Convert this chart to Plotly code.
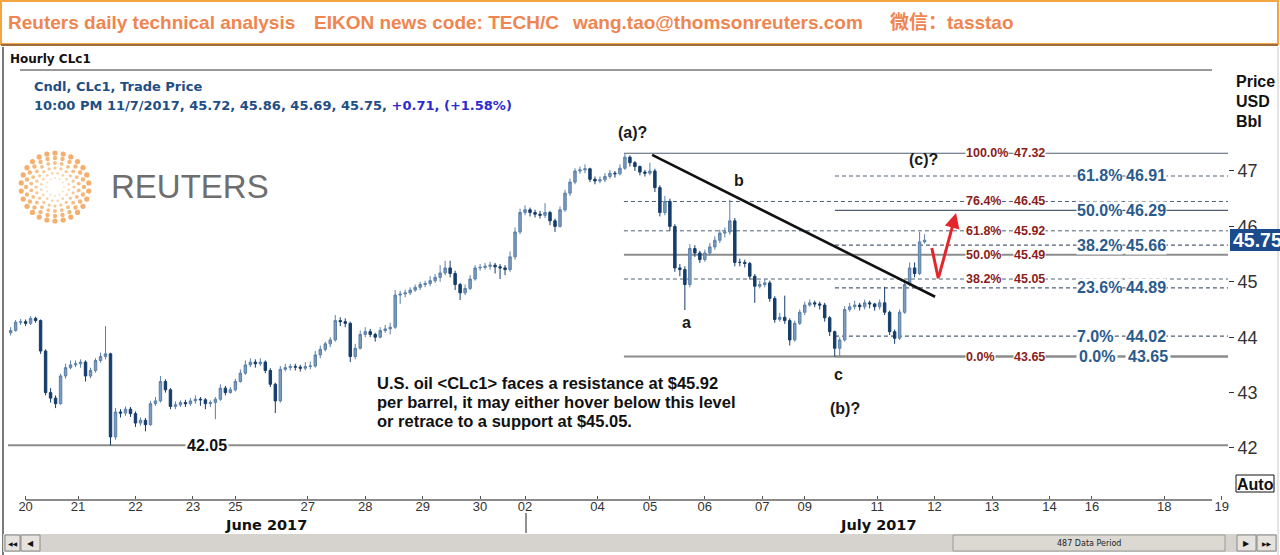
import math
import plotly.graph_objects as go

W, H = 1280, 555

# ---------------- data (2-hour bars) ----------------
first_open = 44.08
closes = [44.12, 44.27, 44.28, 44.25, 44.34, 44.30, 43.75, 43.00, 42.90, 42.80,
          43.30, 43.45, 43.50, 43.52, 43.55, 43.30, 43.40, 43.58, 43.65, 43.70,
          42.20, 42.65, 42.63, 42.70, 42.62, 42.45, 42.50, 42.42, 42.80, 42.85,
          43.20, 43.05, 42.75, 42.78, 42.82, 42.80, 42.85, 42.88, 42.87, 42.80,
          42.82, 42.88, 43.08, 43.00, 43.05, 43.20, 43.35, 43.50, 43.55, 43.52,
          43.55, 43.40, 43.15, 42.85, 43.42, 43.45, 43.47, 43.46, 43.44, 43.47,
          43.48, 43.68, 43.78, 43.88, 43.95, 44.30, 44.28, 44.25, 43.65, 43.80,
          44.05, 44.10, 44.05, 44.00, 44.12, 44.15, 44.18, 44.76, 44.78, 44.80,
          44.85, 44.90, 44.95, 44.97, 45.02, 45.08, 45.16, 45.25, 45.15, 44.95,
          44.80, 44.88, 45.05, 45.25, 45.26, 45.28, 45.30, 45.27, 45.25, 45.22,
          45.45, 45.90, 46.25, 46.30, 46.25, 46.22, 46.20, 46.25, 46.10, 46.00,
          46.30, 46.60, 46.80, 47.00, 47.02, 47.04, 46.85, 46.82, 46.84, 46.90,
          46.96, 46.95, 47.05, 47.25, 47.15, 47.08, 46.98, 46.96, 47.00, 46.70,
          46.25, 46.45, 46.00, 45.25, 45.22, 44.95, 45.60, 45.52, 45.40, 45.52,
          45.63, 45.75, 45.88, 45.90, 46.10, 45.35, 45.35, 45.33, 45.10, 44.92,
          44.95, 44.98, 44.70, 44.32, 44.36, 44.30, 43.95, 44.25, 44.45, 44.58,
          44.62, 44.60, 44.58, 44.35, 44.10, 43.80, 43.95, 44.50, 44.55, 44.58,
          44.55, 44.62, 44.60, 44.55, 44.62, 44.45, 44.10, 43.98, 44.45, 44.95,
          45.25, 45.15, 45.72, 45.75]
highs = [44.18, 44.31, 44.33, 44.32, 44.38, 44.37, 44.32, 43.78, 43.08, 42.95,
         43.34, 43.52, 43.58, 43.58, 43.60, 43.58, 43.45, 43.62, 43.72, 44.20,
         43.72, 42.72, 42.70, 42.75, 42.74, 42.66, 42.55, 42.54, 42.85, 42.92,
         43.30, 43.24, 43.08, 42.84, 42.86, 42.87, 42.90, 42.95, 42.92, 42.90,
         42.86, 42.92, 43.15, 43.12, 43.10, 43.25, 43.42, 43.58, 43.62, 43.60,
         43.62, 43.58, 43.44, 43.18, 43.48, 43.52, 43.52, 43.52, 43.50, 43.55,
         43.56, 43.75, 43.85, 43.92, 44.00, 44.40, 44.36, 44.34, 44.28, 43.88,
         44.12, 44.18, 44.15, 44.08, 44.18, 44.22, 44.26, 44.85, 44.84, 44.86,
         44.90, 44.95, 45.00, 45.02, 45.10, 45.14, 45.30, 45.38, 45.38, 45.20,
         44.98, 44.95, 45.12, 45.30, 45.32, 45.34, 45.36, 45.34, 45.32, 45.30,
         45.55, 45.98, 46.32, 46.38, 46.34, 46.30, 46.28, 46.42, 46.28, 46.14,
         46.36, 46.66, 46.86, 47.05, 47.08, 47.12, 47.06, 46.90, 46.90, 46.96,
         47.02, 47.00, 47.12, 47.32, 47.28, 47.18, 47.10, 47.02, 47.15, 47.04,
         46.74, 46.55, 46.50, 46.04, 45.32, 45.28, 45.68, 45.66, 45.56, 45.58,
         45.70, 45.82, 45.94, 45.98, 46.48, 46.15, 45.42, 45.40, 45.36, 45.14,
         45.02, 45.05, 45.02, 44.74, 44.44, 44.75, 44.34, 44.30, 44.50, 44.64,
         44.68, 44.66, 44.64, 44.62, 44.38, 44.12, 44.00, 44.56, 44.62, 44.66,
         44.62, 44.68, 44.66, 44.62, 44.68, 44.91, 44.48, 44.14, 44.50, 45.02,
         45.35, 45.35, 45.90, 45.86]
lows = [44.03, 44.10, 44.22, 44.20, 44.22, 44.26, 43.70, 42.95, 42.82, 42.72,
        42.78, 43.25, 43.42, 43.46, 43.45, 43.20, 43.26, 43.36, 43.54, 43.60,
        42.05, 42.15, 42.55, 42.58, 42.56, 42.38, 42.40, 42.30, 42.40, 42.76,
        42.82, 43.00, 42.70, 42.70, 42.74, 42.74, 42.76, 42.80, 42.76, 42.70,
        42.74, 42.52, 42.85, 42.95, 42.98, 43.02, 43.18, 43.32, 43.46, 43.45,
        43.48, 43.35, 43.10, 42.63, 42.82, 43.38, 43.40, 43.40, 43.38, 43.40,
        43.42, 43.45, 43.62, 43.74, 43.82, 43.92, 44.20, 44.18, 43.55, 43.60,
        43.78, 44.00, 44.00, 43.92, 43.98, 44.08, 44.05, 44.15, 44.60, 44.72,
        44.76, 44.82, 44.85, 44.90, 44.92, 44.98, 45.00, 45.12, 45.08, 44.85,
        44.67, 44.76, 44.85, 45.02, 45.20, 45.22, 45.22, 45.15, 45.05, 45.12,
        45.18, 45.40, 45.86, 46.20, 46.18, 46.16, 46.14, 46.15, 46.02, 45.90,
        45.98, 46.26, 46.55, 46.76, 46.95, 46.96, 46.80, 46.76, 46.78, 46.80,
        46.86, 46.88, 46.92, 47.02, 47.08, 47.00, 46.92, 46.90, 46.92, 46.62,
        46.18, 46.20, 45.92, 45.18, 45.10, 44.49, 44.90, 45.45, 45.34, 45.36,
        45.48, 45.58, 45.70, 45.80, 45.85, 45.28, 45.28, 45.26, 45.04, 44.62,
        44.88, 44.90, 44.64, 44.26, 44.28, 44.24, 43.85, 43.92, 44.22, 44.40,
        44.55, 44.54, 44.50, 44.28, 44.02, 43.65, 43.66, 43.92, 44.46, 44.50,
        44.48, 44.50, 44.52, 44.48, 44.50, 44.40, 44.04, 43.88, 43.95, 44.42,
        44.92, 45.08, 45.12, 45.69]
opens = [first_open] + closes[:-1]
bar_hours = list(range(-4, -4 + 2 * len(closes), 2))   # trading-hour index of each bar

tick_hours = [2, 23, 46, 69, 86, 115, 138, 161, 184, 202, 231, 252, 274, 297,
              314, 343, 366, 389, 412, 429, 458, 481]
tick_labels = ["20", "21", "22", "23", "25", "27", "28", "29", "30", "02", "04",
               "05", "06", "07", "09", "11", "12", "13", "14", "16", "18", "19"]
price_ticks = [42, 43, 44, 45, 46, 47]

fib_left_pct = ["100.0%", "76.4%", "61.8%", "50.0%", "38.2%", "0.0%"]
fib_left_val = [47.32, 46.45, 45.92, 45.49, 45.05, 43.65]
fib_left_dash = ["solid", "dash", "dash", "solid", "dash", "solid"]
fib_right_pct = ["61.8%", "50.0%", "38.2%", "23.6%", "7.0%", "0.0%"]
fib_right_val = [46.91, 46.29, 45.66, 44.89, 44.02, 43.65]
fib_right_dash = ["dash", "solid", "dash", "dash", "dash", "solid"]

support_level = 42.05
trend_hours = [252.9, 366.2]
trend_prices = [47.29, 44.73]
arrow_hours = [364.9, 367.5, 374.6]
arrow_prices = [45.61, 45.06, 46.24]
wave_labels = ["(a)?", "a", "b", "c", "(b)?", "(c)?"]
wave_hours = [245.2, 266.5, 287.7, 327.4, 330.2, 361.6]
wave_prices = [47.69, 44.26, 46.82, 43.32, 42.72, 47.20]
last_price = 45.75

# ---------------- geometry helpers ----------------
X_RANGE = [-5.05, 483.5]
Y_RANGE = [41.061, 48.823]
fib_left_start = 241.6
fib_right_start = 326.1
lbl_left_pct_x, lbl_left_val_x = 378.2, 397.4
lbl_right_pct_x, lbl_right_val_x = 422.7, 442.3


def fx(px):
    return px / W


def fy(py):
    return 1 - py / H


fig = go.Figure()

fig.add_trace(go.Candlestick(
    x=bar_hours, open=opens, high=highs, low=lows, close=closes,
    increasing=dict(line=dict(color="#5b80a8", width=1), fillcolor="#7d9cbd"),
    decreasing=dict(line=dict(color="#153d6b", width=1), fillcolor="#153d6b"),
    whiskerwidth=0, hoverinfo="none", showlegend=False))

fig.add_trace(go.Scatter(x=trend_hours, y=trend_prices, mode="lines",
                         line=dict(color="#111111", width=2.6),
                         hoverinfo="skip", showlegend=False))
fig.add_trace(go.Scatter(x=arrow_hours[:2], y=arrow_prices[:2], mode="lines",
                         line=dict(color="#e3262b", width=3),
                         hoverinfo="skip", showlegend=False))

# Reuters logo dots (decoration, in pixel space)
logo_cx, logo_cy = 55, 187
rings = [(9, 12, 2.0, "#f7d3a8"), (14, 16, 2.6, "#f6c182"), (19, 20, 3.2, "#f4b064"),
         (24, 22, 3.8, "#f3a14c"), (29, 24, 4.4, "#f1953b"), (34, 26, 5.2, "#ef8c2f")]
lx, ly, ls, lc = [], [], [], []
for k, (r, n, s, c) in enumerate(rings):
    off = (k % 2) * math.pi / n
    for j in range(n):
        a = off + 2 * math.pi * j / n
        lx.append(logo_cx + r * math.cos(a))
        ly.append(logo_cy + r * math.sin(a))
        ls.append(s)
        lc.append(c)
fig.add_trace(go.Scatter(x=lx, y=ly, mode="markers", xaxis="x2", yaxis="y2",
                         marker=dict(size=ls, color=lc, line=dict(width=0)),
                         hoverinfo="skip", showlegend=False))

shapes = []
ann = []

# fib lines
for v, d in zip(fib_left_val, fib_left_dash):
    solid = d == "solid"
    col = "#8c8c8c" if (solid and v < 47) else "#4f5f70"
    wid = 2 if (solid and v < 47) else 1
    shapes.append(dict(type="line", xref="x", yref="y", x0=fib_left_start, x1=X_RANGE[1],
                       y0=v, y1=v, layer="below",
                       line=dict(color=col, width=wid, dash="solid" if solid else "4px,3px")))
for v, d in zip(fib_right_val, fib_right_dash):
    solid = d == "solid"
    shapes.append(dict(type="line", xref="x", yref="y", x0=fib_right_start, x1=X_RANGE[1],
                       y0=v, y1=v, layer="below",
                       line=dict(color="#4f5f70" if v > 44 else "#8c8c8c",
                                 width=1.2 if v > 44 else 2,
                                 dash="solid" if solid else "4px,3px")))
# support line
shapes.append(dict(type="line", xref="x", yref="y", x0=X_RANGE[0], x1=X_RANGE[1],
                   y0=support_level, y1=support_level, layer="below",
                   line=dict(color="#8c8c8c", width=2)))

# fib labels
for p, v in zip(fib_left_pct, fib_left_val):
    for xx, t in ((lbl_left_pct_x, p), (lbl_left_val_x, f"{v:.2f}")):
        ann.append(dict(x=xx, y=v, xref="x", yref="y", text=t, showarrow=False,
                        xanchor="left", yanchor="middle", bgcolor="white", borderpad=0,
                        font=dict(family="Liberation Sans", size=12.5, color="#8b1c1c", weight="bold")))
for p, v in zip(fib_right_pct, fib_right_val):
    for xx, t in ((lbl_right_pct_x, p), (lbl_right_val_x, f"{v:.2f}")):
        ann.append(dict(x=xx, y=v, xref="x", yref="y", text=t, showarrow=False,
                        xanchor="left", yanchor="middle", bgcolor="white",
                        borderpad=2 if v == fib_right_val[-1] else 0,
                        font=dict(family="Liberation Sans", size=16, color="#2a5b8c", weight="bold")))

# support label
ann.append(dict(x=fx(207), y=support_level, xref="paper", yref="y", text=f"{support_level:.2f}",
                showarrow=False, bgcolor="white", borderpad=1,
                font=dict(family="Liberation Sans", size=16, color="#111", weight="bold")))

# wave labels
for t, hx, pv in zip(wave_labels, wave_hours, wave_prices):
    ann.append(dict(x=hx, y=pv, xref="x", yref="y", text=t, showarrow=False,
                    font=dict(family="Liberation Sans", size=16, color="#1a1a1a", weight="bold")))

# red arrow head segment
ann.append(dict(x=arrow_hours[2], y=arrow_prices[2], ax=arrow_hours[1], ay=arrow_prices[1],
                xref="x", yref="y", axref="x", ayref="y", text="", showarrow=True,
                arrowhead=2, arrowsize=1, arrowwidth=3, arrowcolor="#e3262b"))

# comment text
comment = ["U.S. oil &lt;CLc1&gt; faces a resistance at $45.92",
           "per barrel, it may either hover below this level",
           "or retrace to a support at $45.05."]
for k, line in enumerate(comment):
    ann.append(dict(x=fx(375), y=fy(383 + 19 * k), xref="paper", yref="paper", text=line,
                    showarrow=False, xanchor="left", yanchor="middle",
                    font=dict(family="Liberation Sans", size=16.5, color="#111", weight="bold")))

# header box
shapes.append(dict(type="rect", xref="paper", yref="paper", x0=fx(1), x1=fx(1278),
                   y0=fy(44), y1=fy(1), line=dict(color="#f2a541", width=2), fillcolor="white",
                   layer="below"))
shapes.append(dict(type="line", xref="paper", yref="paper", x0=fx(1), x1=fx(1278),
                   y0=fy(45), y1=fy(45), line=dict(color="#9c6d3f", width=2)))
header_parts = [(6, "Reuters daily technical analysis"), (312, "EIKON news code: TECH/C"),
                (570, "wang.tao@thomsonreuters.com"), (888, "微信：tasstao")]
for px_, t in header_parts:
    ann.append(dict(x=fx(px_), y=fy(22), xref="paper", yref="paper", text=t, showarrow=False,
                    xanchor="left", yanchor="middle",
                    font=dict(family="Liberation Sans, Noto Sans CJK SC", size=19,
                              color="#ef8550", weight="bold")))

# frame lines
shapes.append(dict(type="line", xref="paper", yref="paper", x0=fx(3), x1=fx(3),
                   y0=fy(47), y1=0, line=dict(color="#7a7a7a", width=2)))
shapes.append(dict(type="line", xref="paper", yref="paper", x0=fx(1278), x1=fx(1278),
                   y0=fy(47), y1=0, line=dict(color="#c8c8c8", width=1)))
shapes.append(dict(type="line", xref="paper", yref="paper", x0=fx(20), x1=fx(1212),
                   y0=fy(70), y1=fy(70), line=dict(color="#999999", width=2)))
shapes.append(dict(type="line", xref="paper", yref="paper", x0=fx(26), x1=fx(1212),
                   y0=fy(500), y1=fy(500), line=dict(color="#8a8a8a", width=2)))
shapes.append(dict(type="line", xref="paper", yref="paper", x0=fx(526), x1=fx(526),
                   y0=fy(513), y1=fy(533), line=dict(color="#222", width=1)))

# top-left texts
ann.append(dict(x=fx(8), y=fy(59), xref="paper", yref="paper", text="Hourly CLc1",
                showarrow=False, xanchor="left", yanchor="middle",
                font=dict(family="DejaVu Sans", size=12, color="#111", weight="bold")))
ann.append(dict(x=fx(32), y=fy(87), xref="paper", yref="paper", text="Cndl, CLc1, Trade Price",
                showarrow=False, xanchor="left", yanchor="middle",
                font=dict(family="DejaVu Sans", size=13, color="#1f4e85", weight="bold")))
ann.append(dict(x=fx(32), y=fy(105), xref="paper", yref="paper",
                text="10:00 PM 11/7/2017, 45.72, 45.86, 45.69, 45.75, "
                     "<span style='color:#2b2bd0'>+0.71, (+1.58%)</span>",
                showarrow=False, xanchor="left", yanchor="middle",
                font=dict(family="DejaVu Sans", size=13, color="#1f4e85", weight="bold")))

# logo word
ann.append(dict(x=fx(109), y=fy(186), xref="paper", yref="paper", text="REUTERS",
                showarrow=False, xanchor="left", yanchor="middle",
                font=dict(family="Liberation Sans", size=33, color="#6e6e6e")))

# right side labels
for k, t in enumerate(["Price", "USD", "Bbl"]):
    ann.append(dict(x=fx(1234), y=fy(81 + 20.5 * k), xref="paper", yref="paper", text=t,
                    showarrow=False, xanchor="left", yanchor="middle",
                    font=dict(family="Liberation Sans", size=16, color="#111", weight="bold")))
shapes.append(dict(type="rect", xref="paper", yref="paper", x0=fx(1230), x1=fx(1281),
                   y0=fy(251), y1=fy(229), fillcolor="#1b4b8a", line=dict(width=0), layer="above"))
ann.append(dict(x=fx(1231), y=fy(240), xref="paper", yref="paper", text=f"{last_price:.2f}",
                showarrow=False, xanchor="left", yanchor="middle",
                font=dict(family="Liberation Sans", size=19.5, color="white", weight="bold")))
shapes.append(dict(type="rect", xref="paper", yref="paper", x0=fx(1236), x1=fx(1274),
                   y0=fy(492), y1=fy(475), line=dict(color="#111", width=1), fillcolor="white"))
ann.append(dict(x=fx(1255), y=fy(484), xref="paper", yref="paper", text="Auto",
                showarrow=False, font=dict(family="Liberation Sans", size=16, color="#111",
                                           weight="bold")))

# month labels
for px_, t in ((266, "June 2017"), (878, "July 2017")):
    ann.append(dict(x=fx(px_), y=fy(524.5), xref="paper", yref="paper", text=t, showarrow=False,
                    font=dict(family="DejaVu Sans", size=14.5, color="#111", weight="bold")))

# scroll bar
shapes.append(dict(type="rect", xref="paper", yref="paper", x0=fx(3), x1=fx(1277),
                   y0=fy(552), y1=fy(534), fillcolor="#d6d3ce", line=dict(width=0)))
for a_, b_ in ((5, 20), (21, 40), (1237, 1256), (1257, 1276)):
    shapes.append(dict(type="rect", xref="paper", yref="paper", x0=fx(a_), x1=fx(b_),
                       y0=fy(551), y1=fy(535), fillcolor="#e6e3de",
                       line=dict(color="#8a8a8a", width=1)))
shapes.append(dict(type="rect", xref="paper", yref="paper", x0=fx(953), x1=fx(1225),
                   y0=fy(551), y1=fy(535), fillcolor="#dcd9d3",
                   line=dict(color="#9a9a9a", width=1)))
for px_, t, s in ((12.5, "◀◀", 6), (30.5, "◀", 8), (1246.5, "▶", 8), (1266.5, "▶▶", 6)):
    ann.append(dict(x=fx(px_), y=fy(543), xref="paper", yref="paper", text=t, showarrow=False,
                    font=dict(family="DejaVu Sans", size=s, color="#111")))
ann.append(dict(x=fx(1089), y=fy(543), xref="paper", yref="paper", text="487 Data Period",
                showarrow=False, font=dict(family="DejaVu Sans", size=8, color="#222")))

# explicit anchors (avoid plotly's 'auto' third-based anchoring)
for a in ann:
    a.setdefault("xanchor", "center")
    a.setdefault("yanchor", "middle")

fig.update_layout(
    width=W, height=H, margin=dict(l=0, r=0, t=0, b=0),
    paper_bgcolor="white", plot_bgcolor="rgba(0,0,0,0)", showlegend=False,
    xaxis=dict(domain=[8 / W, 1228 / W], range=X_RANGE, tickvals=tick_hours,
               ticktext=tick_labels, ticks="inside", ticklen=4, tickcolor="#555",
               showgrid=False, zeroline=False, showline=False, anchor="y",
               ticklabelstandoff=-3,
               tickfont=dict(family="Liberation Sans", size=13, color="#333"),
               rangeslider=dict(visible=False), fixedrange=True, automargin=False),
    yaxis=dict(domain=[55 / H, 485 / H], range=Y_RANGE, side="right", tickvals=price_ticks,
               ticks="outside", ticklen=5, tickcolor="#333", showgrid=False, zeroline=False,
               showline=False, anchor="x",
               tickfont=dict(family="Liberation Sans", size=18, color="#333"),
               fixedrange=True, automargin=False),
    xaxis2=dict(domain=[0, 1], range=[0, W], visible=False, anchor="y2", fixedrange=True),
    yaxis2=dict(domain=[0, 1], range=[H, 0], visible=False, anchor="x2", fixedrange=True),
    shapes=shapes, annotations=ann,
)

fig.write_html("out.html", config={"displayModeBar": False},
               post_script="document.body.style.margin='0';document.body.style.overflow='hidden';")
